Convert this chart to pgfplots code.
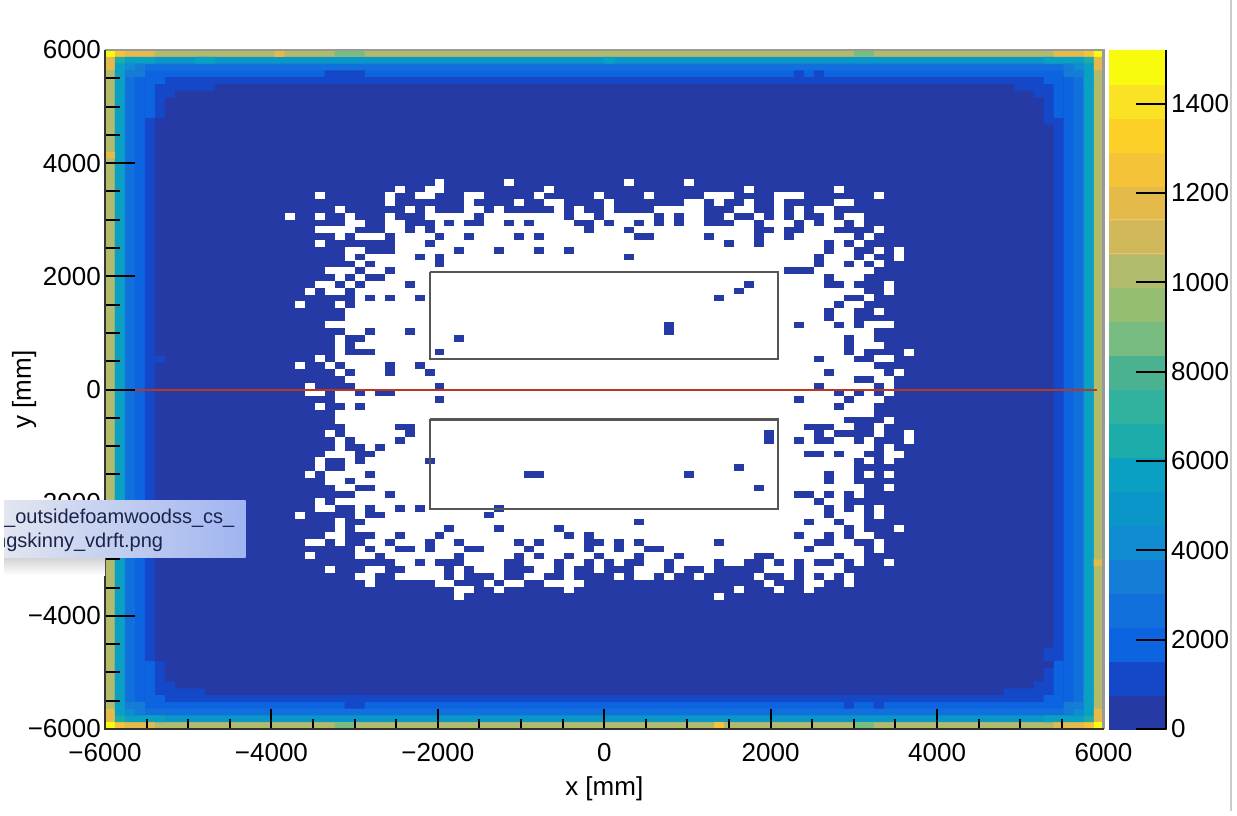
\documentclass[border=0pt]{standalone}
\usepackage{fontspec}
\setmainfont{Liberation Sans}
\usepackage{pgfplots}
\pgfplotsset{compat=1.18}
\definecolor{b0}{RGB}{38,58,165}
\definecolor{b1}{RGB}{20,72,200}
\definecolor{b2}{RGB}{12,100,225}
\definecolor{b3}{RGB}{18,112,220}
\definecolor{b4}{RGB}{22,125,215}
\definecolor{b5}{RGB}{15,140,210}
\definecolor{b6}{RGB}{10,150,200}
\definecolor{b7}{RGB}{10,160,195}
\definecolor{b8}{RGB}{28,172,170}
\definecolor{b9}{RGB}{48,178,158}
\definecolor{b10}{RGB}{75,178,145}
\definecolor{b11}{RGB}{120,188,130}
\definecolor{b12}{RGB}{150,190,115}
\definecolor{b13}{RGB}{178,187,108}
\definecolor{b14}{RGB}{209,184,90}
\definecolor{b15}{RGB}{228,186,75}
\definecolor{b16}{RGB}{245,195,55}
\definecolor{b17}{RGB}{253,208,40}
\definecolor{b18}{RGB}{250,226,36}
\definecolor{b19}{RGB}{249,251,14}
\definecolor{boxgray}{RGB}{85,85,85}
\definecolor{redline}{RGB}{185,55,30}
\newcommand{\bigfont}{\fontsize{26}{28}\selectfont}
\pgfplotsset{/pgfplots/table/binxy/.style={header=false,row sep=\\,x expr=\thisrowno{0}*120-6000,y expr=6000-\thisrowno{1}*120}}
% one rectangle of bins: colour, i0, j0, i1, j1 (bin edges, counted from the top left)
\newcommand{\cellrect}[5]{\addplot[fill=#1,draw=none,forget plot] table[binxy]{#2 #3\\#4 #3\\#4 #5\\#2 #5\\#2 #3\\};}
\newcommand{\band}[3]{\addplot[fill=#1,draw=#1,line width=0.3pt,forget plot] coordinates {(0,#2)(1,#2)(1,#3)(0,#3)(0,#2)};}
\begin{document}
\begin{tikzpicture}[x=1pt,y=1pt]
\path[use as bounding box] (0,0) rectangle (1237,815);
\begin{axis}[name=main,at={(105pt,86pt)},anchor=south west,scale only axis,width=998.5pt,height=679pt,
  xmin=-6000,xmax=6000,ymin=-6000,ymax=6000,axis on top,
  axis line style={draw=none},xtick=\empty,
  ytick={-6000,-4000,-2000,0,2000,4000,6000},
  yticklabels={−6000,−4000,−2000,0,2000,4000,6000},
  minor y tick num=3,ytick pos=left,tick align=inside,
  major tick length=30pt,minor tick length=15pt,
  tick style={black,line width=2pt},
  yticklabel style={font=\bigfont,inner sep=0pt,xshift=-4pt},
  ylabel={y [mm]},
  every axis y label/.style={at={(axis description cs:-0.081,0.5)},rotate=90,anchor=center,font=\bigfont},
]
% rings of the outer frame
\cellrect{b13}{0}{0}{100}{100}
\cellrect{b6}{1}{1}{99}{99}
\cellrect{b7}{1}{5}{2}{95}
\cellrect{b7}{98}{5}{99}{95}
\cellrect{b3}{2}{2}{98}{98}
\cellrect{b2}{3}{3}{97}{97}
\cellrect{b1}{4}{4}{96}{96}
% corners and single bins of the frame
\cellrect{b19}{0}{0}{1}{1}
\cellrect{b16}{1}{0}{2}{1}
\cellrect{b15}{2}{0}{5}{1}
\cellrect{b15}{17}{0}{18}{1}
\cellrect{b11}{23}{0}{26}{1}
\cellrect{b11}{75}{0}{77}{1}
\cellrect{b15}{95}{0}{98}{1}
\cellrect{b16}{98}{0}{99}{1}
\cellrect{b19}{99}{0}{100}{1}
\cellrect{b15}{0}{1}{1}{3}
\cellrect{b15}{99}{1}{100}{3}
\cellrect{b15}{0}{15}{1}{16}
\cellrect{b15}{99}{75}{100}{76}
\cellrect{b15}{0}{97}{1}{99}
\cellrect{b15}{99}{97}{100}{99}
\cellrect{b19}{0}{99}{1}{100}
\cellrect{b16}{1}{99}{2}{100}
\cellrect{b15}{2}{99}{5}{100}
\cellrect{b11}{23}{99}{25}{100}
\cellrect{b16}{61}{99}{62}{100}
\cellrect{b11}{75}{99}{77}{100}
\cellrect{b15}{95}{99}{98}{100}
\cellrect{b16}{98}{99}{99}{100}
\cellrect{b19}{99}{99}{100}{100}
\cellrect{b8}{1}{1}{2}{2}
\cellrect{b8}{98}{1}{99}{2}
\cellrect{b8}{1}{98}{2}{99}
\cellrect{b8}{98}{98}{99}{99}
\cellrect{b7}{2}{1}{5}{2}
\cellrect{b7}{9}{1}{11}{2}
\cellrect{b7}{50}{1}{51}{2}
\cellrect{b7}{94}{1}{98}{2}
\cellrect{b7}{2}{98}{6}{99}
\cellrect{b7}{94}{98}{98}{99}
\cellrect{b7}{1}{2}{2}{5}
\cellrect{b7}{98}{2}{99}{5}
\cellrect{b7}{1}{95}{2}{98}
\cellrect{b7}{98}{95}{99}{98}
\cellrect{b5}{2}{2}{3}{3}
\cellrect{b4}{3}{2}{4}{3}
\cellrect{b4}{2}{3}{4}{4}
\cellrect{b5}{97}{2}{98}{3}
\cellrect{b4}{96}{2}{97}{3}
\cellrect{b4}{96}{3}{98}{4}
\cellrect{b5}{2}{97}{3}{98}
\cellrect{b4}{3}{97}{4}{98}
\cellrect{b4}{2}{96}{4}{97}
\cellrect{b5}{97}{97}{98}{98}
\cellrect{b4}{96}{97}{97}{98}
\cellrect{b4}{96}{96}{98}{97}
\cellrect{b2}{4}{4}{6}{5}
\cellrect{b2}{4}{5}{5}{10}
\cellrect{b2}{94}{4}{96}{5}
\cellrect{b2}{95}{5}{96}{10}
\cellrect{b2}{4}{95}{6}{96}
\cellrect{b2}{4}{90}{5}{95}
\cellrect{b2}{94}{95}{96}{96}
\cellrect{b2}{95}{90}{96}{95}
\cellrect{b1}{22}{3}{26}{4}
\cellrect{b1}{69}{3}{70}{4}
\cellrect{b1}{71}{3}{72}{4}
\cellrect{b1}{24}{96}{26}{97}
\cellrect{b1}{74}{96}{75}{97}
\cellrect{b1}{77}{96}{78}{97}
% the dark field
\addplot[fill=b0,draw=none,forget plot] table[binxy]{11 5\\91 5\\91 6\\93 6\\93 7\\94 7\\94 11\\95 11\\95 88\\94 88\\94 93\\93 93\\93 94\\90 94\\90 95\\10 95\\10 94\\7 94\\7 93\\6 93\\6 90\\5 90\\5 10\\6 10\\6 7\\7 7\\7 6\\11 6\\11 5\\};
\cellrect{b1}{5}{45}{6}{46}
\cellrect{b0}{94}{90}{95}{91}
% empty bins: first bin, last bin, row (rows counted from the top)
\addplot[draw=none,mark=none,forget plot,error bars/.cd,x dir=both,x explicit,error mark=none,error bar style={draw=white,line width=7pt}]
table[header=false,row sep=\\,x expr=(\thisrowno{0}+\thisrowno{1}+1)*60-6000,y expr=5940-\thisrowno{2}*120,x error expr=(\thisrowno{1}-\thisrowno{0}+1)*60]{
33 33 19\\40 40 19\\52 52 19\\58 58 19\\
29 29 20\\32 33 20\\44 44 20\\64 64 20\\73 73 20\\
21 21 21\\28 28 21\\31 32 21\\36 37 21\\43 43 21\\49 49 21\\54 54 21\\60 62 21\\67 69 21\\77 77 21\\
28 28 22\\36 36 22\\41 41 22\\44 45 22\\50 50 22\\58 59 22\\61 61 22\\64 64 22\\67 67 22\\73 74 22\\
23 23 23\\30 30 23\\32 32 23\\36 37 23\\39 39 23\\45 45 23\\47 47 23\\50 50 23\\55 59 23\\63 64 23\\67 67 23\\69 69 23\\71 72 23\\
18 18 24\\21 21 24\\24 24 24\\28 28 24\\32 36 24\\38 45 24\\47 48 24\\50 54 24\\56 56 24\\58 59 24\\62 62 24\\65 65 24\\67 67 24\\69 69 24\\72 72 24\\74 75 24\\
24 25 25\\28 29 25\\33 33 25\\35 35 25\\38 39 25\\41 41 25\\43 46 25\\49 49 25\\51 52 25\\54 54 25\\56 56 25\\58 59 25\\63 64 25\\66 68 25\\70 70 25\\72 73 25\\75 75 25\\
21 24 26\\28 29 26\\31 31 26\\33 47 26\\49 51 26\\53 64 26\\67 67 26\\70 72 26\\77 77 26\\
23 23 27\\25 27 27\\29 32 27\\34 35 27\\37 40 27\\42 42 27\\44 52 27\\55 59 27\\61 64 27\\66 67 27\\69 74 27\\76 76 27\\
21 21 28\\29 31 28\\33 61 28\\63 64 28\\66 71 28\\73 73 28\\75 75 28\\
24 25 29\\29 34 29\\36 38 29\\40 42 29\\44 45 29\\47 71 29\\73 74 29\\77 77 29\\79 79 29\\
24 24 30\\26 30 30\\32 32 30\\34 51 30\\53 70 30\\72 74 30\\76 76 30\\79 79 30\\
25 25 31\\27 32 31\\34 70 31\\72 73 31\\75 75 31\\77 77 31\\
22 24 32\\26 27 32\\29 67 32\\71 76 32\\
23 23 33\\25 25 33\\28 71 33\\73 75 33\\
21 22 34\\24 24 34\\26 29 34\\31 63 34\\65 71 34\\74 74 34\\78 78 34\\
20 20 35\\22 23 35\\25 62 35\\64 75 35\\78 78 35\\
25 25 36\\27 27 36\\29 30 36\\32 60 36\\62 73 36\\76 76 36\\
19 19 37\\23 23 37\\25 72 37\\74 75 37\\
24 71 38\\73 74 38\\77 77 38\\
24 71 39\\73 74 39\\
22 55 40\\57 68 40\\70 72 40\\74 74 40\\76 78 40\\
24 25 41\\27 29 41\\31 55 41\\57 76 41\\
23 23 42\\26 34 42\\36 73 42\\75 76 42\\
23 23 43\\25 73 43\\75 77 43\\
23 23 44\\27 32 44\\34 73 44\\75 75 44\\80 80 44\\
21 21 45\\23 70 45\\72 74 45\\77 78 45\\
19 19 46\\22 22 46\\24 27 46\\29 30 46\\32 76 46\\
23 23 47\\25 27 47\\29 31 47\\33 71 47\\73 77 47\\79 79 47\\
24 74 48\\77 78 48\\
20 20 49\\25 32 49\\34 70 49\\72 76 49\\78 78 49\\
20 21 50\\23 24 50\\26 26 50\\29 72 50\\74 74 50\\76 76 50\\78 78 50\\
23 32 51\\34 68 51\\70 73 51\\75 77 51\\
21 21 52\\24 24 52\\26 72 52\\74 76 52\\
23 76 53\\
23 73 54\\78 78 54\\
24 28 55\\31 69 55\\73 74 55\\77 77 55\\
22 22 56\\24 29 56\\31 65 56\\67 70 56\\72 72 56\\77 77 56\\80 80 56\\
23 23 57\\25 28 57\\30 65 57\\67 68 57\\70 70 57\\73 74 57\\76 76 57\\80 80 57\\
23 23 58\\26 26 58\\28 76 58\\78 78 58\\
22 24 59\\27 69 59\\72 72 59\\74 75 59\\78 79 59\\
21 21 60\\24 24 60\\26 31 60\\33 74 60\\76 76 60\\78 78 60\\
21 21 61\\24 62 61\\64 74 61\\
20 20 62\\22 25 62\\27 41 62\\44 57 62\\59 71 62\\73 74 62\\76 76 62\\78 78 62\\
22 23 63\\25 71 63\\73 74 63\\
23 24 64\\27 64 64\\66 75 64\\78 78 64\\
25 27 65\\29 68 65\\71 71 65\\73 73 65\\75 75 65\\
21 21 66\\23 70 66\\72 73 66\\
21 22 67\\25 25 67\\27 28 67\\30 30 67\\32 38 67\\40 71 67\\73 73 67\\75 75 67\\77 77 67\\
19 19 68\\25 25 68\\28 37 68\\39 71 68\\73 75 68\\77 77 68\\
23 23 69\\26 52 69\\54 69 69\\71 72 69\\74 75 69\\
23 23 70\\25 33 70\\35 38 70\\40 44 70\\46 73 70\\75 75 70\\79 79 70\\
22 23 71\\27 28 71\\30 32 71\\34 45 71\\47 47 71\\49 68 71\\70 71 71\\73 73 71\\75 76 71\\
20 21 72\\23 23 72\\26 27 72\\29 31 72\\33 34 72\\36 40 72\\42 42 72\\44 47 72\\50 50 72\\52 52 72\\54 60 72\\62 70 72\\73 74 72\\77 77 72\\
25 25 73\\27 28 73\\31 31 73\\33 35 73\\38 41 73\\43 47 73\\49 50 73\\52 53 73\\56 69 73\\71 75 73\\77 77 73\\
20 20 74\\25 26 74\\28 34 74\\36 40 74\\42 42 74\\44 45 74\\47 48 74\\50 52 74\\54 56 74\\58 64 74\\67 72 74\\74 75 74\\
29 30 75\\32 32 75\\36 39 75\\42 44 75\\46 47 75\\49 49 75\\51 51 75\\54 55 75\\57 60 75\\62 63 75\\66 66 75\\68 68 75\\70 70 75\\73 73 75\\75 75 75\\78 78 75\\
22 22 76\\26 27 76\\30 33 76\\35 35 76\\37 39 76\\43 44 76\\46 46 76\\49 49 76\\53 55 76\\57 57 76\\60 60 76\\66 68 76\\70 73 76\\
25 26 77\\29 33 77\\35 35 77\\39 39 77\\42 43 77\\46 46 77\\51 51 77\\53 54 77\\56 56 77\\59 59 77\\65 65 77\\68 68 77\\70 70 77\\72 72 77\\74 74 77\\
26 26 78\\33 34 78\\38 38 78\\40 41 78\\44 47 78\\66 66 78\\70 71 78\\74 74 78\\
35 36 79\\39 39 79\\46 46 79\\63 63 79\\67 67 79\\70 70 79\\
35 35 80\\61 61 80\\
};
% horizontal line and the two frames
\addplot[draw=redline,line width=2pt,opacity=1,forget plot] coordinates {(-5664,0)(5920,0)};
\addplot[draw=boxgray,line width=2.6pt,forget plot] coordinates {(-2092,2080)(2090,2080)(2090,540)(-2092,540)(-2092,2080)};
\addplot[draw=boxgray,line width=2.6pt,forget plot] coordinates {(-2092,-525)(2090,-525)(2090,-2110)(-2092,-2110)(-2092,-525)};
\end{axis}
\begin{axis}[at={(105pt,86pt)},anchor=south west,scale only axis,width=998.5pt,height=679pt,
  xmin=-6000,xmax=6000,ymin=-6000,ymax=6000,clip=false,
  axis line style={draw=none},ytick=\empty,
  xtick={-6000,-4000,-2000,0,2000,4000,6000},
  xticklabels={−6000,−4000,−2000,0,2000,4000,6000},
  minor x tick num=3,xtick pos=bottom,tick align=inside,
  major tick length=20pt,minor tick length=10pt,
  tick style={black,line width=2pt},
  xticklabel style={font=\bigfont,inner sep=0pt,yshift=-14pt},
  xlabel={x [mm]},
  every axis x label/.style={at={(axis description cs:0.5,-0.0875)},anchor=center,font=\bigfont},
]
\addplot[draw=gray!80,line width=2.2pt,forget plot] coordinates {(-6000,6000)(6000,6000)(6000,-6000)};
\addplot[draw=black!80,line width=1.8pt,forget plot] coordinates {(-6000,6000)(-6000,-6000)(6000,-6000)};
\end{axis}
\begin{axis}[at={(1109pt,86pt)},anchor=south west,scale only axis,width=57pt,height=679pt,
  xmin=0,xmax=1,ymin=0,ymax=15200,axis on top,clip=false,
  axis line style={draw=none},xtick=\empty,
  ytick={0,2000,4000,6000,8000,10000,12000,14000},
  yticklabels={0,2000,4000,6000,8000,1000,1200,1400},
  scaled y ticks=false,
  ytick pos=right,tick align=inside,major tick length=30pt,
  tick style={black,line width=2pt},
  yticklabel style={font=\bigfont,inner sep=0pt,xshift=5pt},
]
\band{b0}{0}{760}
\band{b1}{760}{1520}
\band{b2}{1520}{2280}
\band{b3}{2280}{3040}
\band{b4}{3040}{3800}
\band{b5}{3800}{4560}
\band{b6}{4560}{5320}
\band{b7}{5320}{6080}
\band{b8}{6080}{6840}
\band{b9}{6840}{7600}
\band{b10}{7600}{8360}
\band{b11}{8360}{9120}
\band{b12}{9120}{9880}
\band{b13}{9880}{10640}
\band{b14}{10640}{11400}
\band{b15}{11400}{12160}
\band{b16}{12160}{12920}
\band{b17}{12920}{13680}
\band{b18}{13680}{14440}
\band{b19}{14440}{15200}
\addplot[draw=black,line width=1.6pt,forget plot] coordinates {(1,0)(1,15200)};
\end{axis}
% window edge and the floating tooltip of the screenshot
\fill[white] (1230,0) rectangle (1237,815);
\draw[draw=black!20,line width=2.5pt] (1231,4) -- (1231,815);
\shade[top color=black!18,bottom color=white] (4,258) rectangle (105,240);
\begin{scope}
\clip (4,258) rectangle (245.5,315);
\shade[left color={rgb,255:red,226;green,230;blue,240},right color={rgb,255:red,160;green,180;blue,240}] (4,258) rectangle (245.5,315);
\node[anchor=base west,inner sep=0pt,text={rgb,255:red,25;green,35;blue,75},font=\fontsize{20}{22}\selectfont] at (4,292) {\_outsidefoamwoodss\_cs\_};
\node[anchor=base west,inner sep=0pt,text={rgb,255:red,25;green,35;blue,75},font=\fontsize{20}{22}\selectfont] at (-5,268) {ngskinny\_vdrft.png};
\end{scope}
\end{tikzpicture}
\end{document}
